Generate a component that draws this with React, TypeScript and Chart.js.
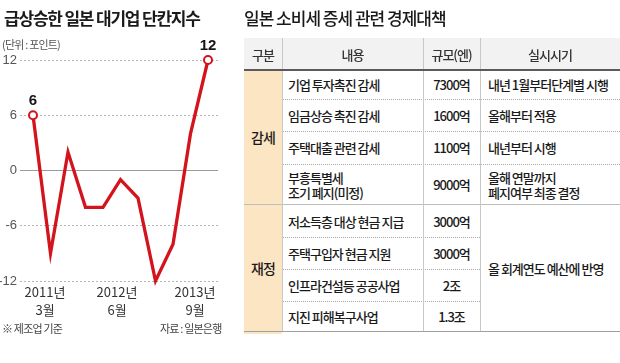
import React, { useEffect, useRef } from "react";
import { Chart, registerables } from "chart.js";

Chart.register(...registerables);

// ---- line chart data ----
const quarters = ["2011.3", "2011.6", "2011.9", "2011.12", "2012.3", "2012.6", "2012.9", "2012.12", "2013.3", "2013.6", "2013.9"];
const tankanValues = [6, -9, 2, -4, -4, -1, -3, -12, -8, 4, 12];
const yTickValues = [-12, -6, 0, 6, 12];
const xTickIndexes = [0, 5, 10];
const xTickLabels = [["2011년", "3월"], ["2012년", "6월"], ["2013년", "9월"]];
const labeledPointIndexes = [0, 10];

// ---- table data ----
const tableHeaders = ["구분", "내용", "규모(엔)", "실시시기"];
const groupNames = ["감세", "재정"];
const rowGroup = [0, 0, 0, 0, 1, 1, 1, 1];
const measures = [
  "기업 투자촉진 감세",
  "임금상승 촉진 감세",
  "주택대출 관련 감세",
  "부흥특별세\n조기 폐지(미정)",
  "저소득층 대상 현금 지급",
  "주택구입자 현금 지원",
  "인프라건설등 공공사업",
  "지진 피해복구사업",
];
const sizes = ["7300억", "1600억", "1100억", "9000억", "3000억", "3000억", "2조", "1.3조"];
const timings = ["내년 1월부터단계별 시행", "올해부터 적용", "내년부터 시행", "올해 연말까지\n폐지여부 최종 결정"];
const groupTiming = ["", "올 회계연도 예산에 반영"];

// ---- layout (styles only) ----
const RED = "#d3141d";
const colX = [244, 282, 423, 480, 620];
const headerTop = 38;
const headerH = 32;
const rowHeights = [29, 32, 33, 41, 32, 32, 32, 30];
const xLabelNudge = [12, -3.5, -13];
const KFONT = "'Noto Sans CJK KR', 'Noto Sans', sans-serif";

function LineChart() {
  const ref = useRef<HTMLCanvasElement | null>(null);
  useEffect(() => {
    if (!ref.current) return;
    const labelPlugin = {
      id: "pointAndAxisLabels",
      afterDatasetsDraw(chart: any) {
        const ctx = chart.ctx;
        const xs = chart.scales.x;
        const ys = chart.scales.y;
        ctx.save();
        ctx.textAlign = "center";
        ctx.fillStyle = "#151515";
        ctx.font = "bold 15px 'Liberation Sans Narrow', 'Liberation Sans', sans-serif";
        ctx.textBaseline = "bottom";
        labeledPointIndexes.forEach((i) => {
          ctx.fillText(String(tankanValues[i]), xs.getPixelForValue(i), ys.getPixelForValue(tankanValues[i]) - 7);
        });
        ctx.fillStyle = "#333";
        ctx.font = "13px 'Liberation Sans Narrow', 'Noto Sans CJK KR', sans-serif";
        ctx.textBaseline = "middle";
        const base = chart.chartArea.bottom;
        xTickIndexes.forEach((idx, k) => {
          const x = xs.getPixelForValue(idx) + xLabelNudge[k];
          ctx.fillText(xTickLabels[k][0], x, base + 11);
          ctx.fillText(xTickLabels[k][1], x, base + 29);
        });
        ctx.restore();
      },
    };
    const last = tankanValues.length - 1;
    const chart = new Chart(ref.current, {
      type: "line",
      data: {
        labels: quarters,
        datasets: [
          {
            data: tankanValues.map((v, i) => ({ x: i, y: v })),
            borderColor: RED,
            borderWidth: 3.3,
            pointRadius: (c: any) => (c.dataIndex === 0 || c.dataIndex === last ? 4 : 0),
            pointBackgroundColor: "#ffffff",
            pointBorderColor: RED,
            pointBorderWidth: 2,
            tension: 0,
            clip: false as any,
          },
        ],
      },
      options: {
        animation: false,
        responsive: false,
        maintainAspectRatio: false,
        layout: { padding: { top: 60, bottom: 82, left: 0, right: 12 } },
        plugins: { legend: { display: false }, tooltip: { enabled: false } },
        scales: {
          x: {
            type: "linear",
            display: false,
            min: -0.743,
            max: 10.571,
          },
          y: {
            min: -12,
            max: 12,
            afterBuildTicks: (s: any) => {
              s.ticks = yTickValues.map((v) => ({ value: v }));
            },
            afterFit: (s: any) => {
              s.width = 20;
            },
            ticks: {
              padding: 3,
              color: "#555",
              font: { family: "'Liberation Sans Narrow', 'Liberation Sans', sans-serif", size: 13 },
            },
            grid: {
              drawTicks: false,
              color: (c: any) => (c.tick && c.tick.value === 0 ? "#9a9a9a" : "#b5b5b5"),
              lineWidth: 1,
            },
            border: {
              display: false,
              dash: (c: any) => (c.tick && c.tick.value === 0 ? [] : [2, 2]),
            } as any,
          },
        },
      },
      plugins: [labelPlugin],
    } as any);
    return () => chart.destroy();
  }, []);
  return (
    <canvas
      ref={ref}
      width={230}
      height={363}
      style={{ position: "absolute", left: 0, top: 0, width: 230, height: 363 }}
    />
  );
}

function Table() {
  const els: React.ReactNode[] = [];
  const rowTops: number[] = [];
  let y = headerTop + headerH;
  rowHeights.forEach((h) => {
    rowTops.push(y);
    y += h;
  });
  const bottom = y;
  const cellText: React.CSSProperties = {
    position: "absolute",
    display: "flex",
    alignItems: "center",
    whiteSpace: "pre",
    fontSize: 13,
    fontWeight: 500,
    lineHeight: "15px",
    letterSpacing: "-1px",
    color: "#1a1a1a",
  };
  els.push(
    <div key="hbg" style={{ position: "absolute", left: colX[0], top: headerTop, width: colX[4] - colX[0], height: headerH, background: "#f2f2f2" }} />
  );
  els.push(
    <div key="peach" style={{ position: "absolute", left: colX[0], top: headerTop + headerH, width: colX[1] - colX[0], height: bottom - headerTop - headerH + 3, background: "#fce5c2" }} />
  );
  tableHeaders.forEach((t, c) => {
    els.push(
      <div key={"h" + c} style={{ ...cellText, left: colX[c], top: headerTop, width: colX[c + 1] - colX[c], height: headerH, justifyContent: "center", color: "#333" }}>
        {t}
      </div>
    );
  });
  groupNames.forEach((g, gi) => {
    const idx = rowGroup.map((v, i) => (v === gi ? i : -1)).filter((i) => i >= 0);
    const top = rowTops[idx[0]];
    const h = idx.reduce((s, i) => s + rowHeights[i], 0);
    els.push(
      <div key={"g" + gi} style={{ ...cellText, left: colX[0], top, width: colX[1] - colX[0], height: h, justifyContent: "center", fontSize: 14 }}>
        {g}
      </div>
    );
    if (groupTiming[gi]) {
      els.push(
        <div key={"gt" + gi} style={{ ...cellText, left: colX[3] + 8, top, width: colX[4] - colX[3] - 8, height: h }}>
          {groupTiming[gi]}
        </div>
      );
    }
    if (gi > 0) {
      els.push(
        <div key={"gl" + gi} style={{ position: "absolute", left: colX[0], top: top - 1, width: colX[4] - colX[0], height: 0, borderTop: "1px solid #bdbdbd" }} />
      );
    }
  });
  measures.forEach((m, i) => {
    const top = rowTops[i];
    const h = rowHeights[i];
    els.push(
      <div key={"m" + i} style={{ ...cellText, left: colX[1] + 6, top, width: colX[2] - colX[1] - 6, height: h }}>
        {m}
      </div>
    );
    els.push(
      <div key={"s" + i} style={{ ...cellText, left: colX[2], top, width: colX[3] - colX[2], height: h, justifyContent: "center" }}>
        {sizes[i]}
      </div>
    );
    if (timings[i]) {
      els.push(
        <div key={"t" + i} style={{ ...cellText, left: colX[3] + 8, top, width: colX[4] - colX[3] - 8, height: h }}>
          {timings[i]}
        </div>
      );
    }
    if (i + 1 < measures.length && rowGroup[i + 1] === rowGroup[i]) {
      const right = timings[i] ? colX[4] : colX[3];
      els.push(
        <div key={"d" + i} style={{ position: "absolute", left: colX[1], top: top + h, width: right - colX[1], height: 0, borderTop: "1px dotted #a8a8a8" }} />
      );
    }
  });
  [1, 2, 3].forEach((c) => {
    els.push(
      <div key={"v" + c} style={{ position: "absolute", left: colX[c], top: headerTop, width: 0, height: bottom - headerTop, borderLeft: "1px solid #c8c8c8" }} />
    );
  });
  els.push(
    <div key="hl" style={{ position: "absolute", left: colX[0], top: headerTop + headerH - 1, width: colX[4] - colX[0], height: 0, borderTop: "2px solid #5a5a5a" }} />
  );
  els.push(
    <div key="bl" style={{ position: "absolute", left: colX[0], top: bottom, width: colX[4] - colX[0], height: 0, borderTop: "1px solid #a0a0a0" }} />
  );
  return <>{els}</>;
}

export default function App() {
  return (
    <div
      style={{
        position: "fixed",
        left: 0,
        top: 0,
        width: 620,
        height: 363,
        background: "#ffffff",
        overflow: "hidden",
        fontFamily: KFONT,
      }}
    >
      <LineChart />
      <div style={{ position: "absolute", left: 4, top: 6, fontSize: 17, fontWeight: 700, letterSpacing: "-1.2px", lineHeight: "24px", color: "#1a1a1a", whiteSpace: "nowrap" }}>
        급상승한 일본 대기업 단칸지수
      </div>
      <div style={{ position: "absolute", left: 2, top: 37, fontSize: 11, letterSpacing: "-0.8px", lineHeight: "14px", color: "#555", whiteSpace: "nowrap" }}>
        (단위 : 포인트)
      </div>
      <div style={{ position: "absolute", left: 2, top: 321, fontSize: 11, letterSpacing: "-0.8px", lineHeight: "14px", color: "#444", whiteSpace: "nowrap" }}>
        ※ 제조업 기준
      </div>
      <div style={{ position: "absolute", left: 160, top: 321, fontSize: 11, letterSpacing: "-0.8px", lineHeight: "14px", color: "#444", whiteSpace: "nowrap" }}>
        자료 : 일본은행
      </div>
      <div style={{ position: "absolute", left: 244, top: 6, fontSize: 17, fontWeight: 500, letterSpacing: "-1px", lineHeight: "24px", color: "#1a1a1a", whiteSpace: "nowrap" }}>
        일본 소비세 증세 관련 경제대책
      </div>
      <Table />
    </div>
  );
}
